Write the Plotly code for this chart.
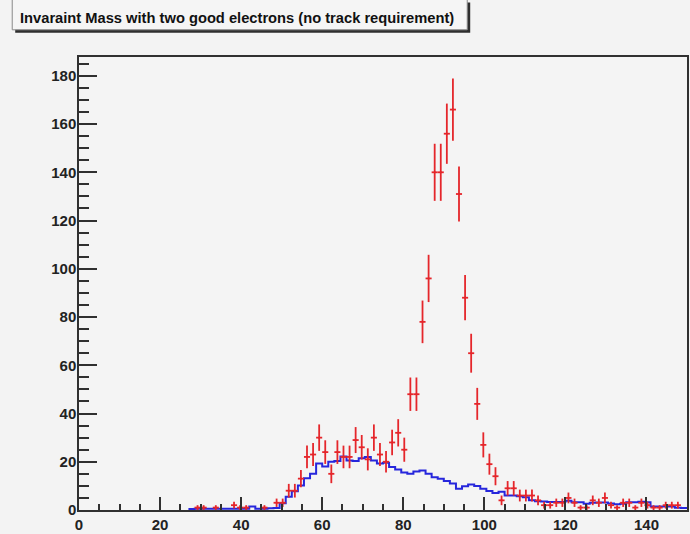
import numpy as np
import plotly.graph_objects as go

# Histogram binning: 100 bins of 1.5 GeV between 0 and 150
x_min, x_max, n_bins = 0.0, 150.0, 100

# Data: events per bin (dielectron invariant mass)
data_counts = [
    0, 0, 0, 0, 0, 0, 0, 0, 0, 0,
    0, 0, 0, 0, 0, 0, 0, 0, 0, 1,
    1, 0, 1, 0, 0, 2, 1, 1, 0, 0,
    1, 0, 3, 3, 8, 8, 13, 22, 23, 30,
    24, 15, 24, 22, 22, 29, 26, 21, 30, 23,
    20, 28, 32, 25, 48, 48, 78, 96, 140, 140,
    156, 166, 131, 88, 65, 44, 27, 19, 14, 4,
    9, 9, 6, 6, 6, 4, 2, 2, 3, 3,
    5, 3, 1, 1, 4, 3, 5, 2, 1, 3,
    3, 1, 3, 2, 1, 1, 2, 2, 2, 0,
]

# Simulated background, scaled, per bin
mc_counts = [
    0, 0, 0, 0, 0, 0, 0, 0, 0, 0,
    0, 0, 0, 0, 0, 0, 0, 0, 0.4, 0.5,
    0.5, 0.5, 0.5, 0.5, 0.5, 0.5, 0.5, 0.5, 1.4, 0.5,
    0.5, 0.7, 0.8, 2.8, 5.5, 7.8, 10.2, 13.2, 15.0, 19.3,
    18.0, 20.0, 20.3, 22.2, 20.5, 20.3, 21.5, 22.0, 20.5, 19.3,
    19.6, 17.8, 16.8, 15.5, 15.0, 16.0, 16.4, 15.0, 13.6, 13.0,
    12.0, 11.0, 8.8, 9.8, 10.6, 10.0, 8.8, 7.9, 7.0, 7.6,
    6.0, 6.0, 5.7, 5.3, 4.0, 3.6, 3.5, 3.3, 3.3, 3.3,
    3.8, 3.2, 3.2, 2.6, 3.0, 3.1, 3.1, 2.7, 2.4, 2.6,
    3.2, 3.2, 3.4, 3.2, 1.5, 1.4, 1.5, 1.5, 0.9, 0.8,
]

title_text = "Invaraint Mass with two good electrons (no track requirement)"
x_ticks = [0, 20, 40, 60, 80, 100, 120, 140]
y_ticks = [0, 20, 40, 60, 80, 100, 120, 140, 160, 180]
y_top = 187.8

RED = "#e5262b"
BLUE = "#2626dc"
AXIS = "#303030"
FONT = "Liberation Sans"

edges = np.linspace(x_min, x_max, n_bins + 1)
centers = 0.5 * (edges[:-1] + edges[1:])
half_width = 0.5 * (edges[1] - edges[0])

data = np.array(data_counts, dtype=float)
filled = data > 0
mc = np.array(mc_counts, dtype=float)
first = int(np.argmax(mc > 0))

fig = go.Figure()

# MC outline drawn as a step histogram
fig.add_trace(go.Scatter(
    x=edges[first:],
    y=np.append(mc[first:], mc[-1]),
    mode="lines",
    line=dict(shape="hv", color=BLUE, width=2),
    hoverinfo="skip",
))

# Data points with Poisson errors and bin-width horizontal bars
fig.add_trace(go.Scatter(
    x=centers[filled],
    y=data[filled],
    mode="markers",
    marker=dict(size=2, color=RED),
    error_x=dict(type="constant", value=half_width, width=0, thickness=1.8, color=RED),
    error_y=dict(type="data", array=np.sqrt(data[filled]), width=0, thickness=1.8, color=RED),
))

# Page geometry used to place the title pave
L, R, T, B, W, H = 79, 1, 57, 19, 690, 534
pw, ph = W - L - R, H - T - B


def px(xp):
    return (xp - L) / pw


def py(yp):
    return (H - B - yp) / ph


shapes = [
    # title pave shadow
    dict(type="rect", xref="paper", yref="paper",
         x0=px(15), x1=px(471.5), y0=py(32.5), y1=py(2),
         fillcolor="#2e2e2e", line=dict(width=0), layer="above"),
    # title pave
    dict(type="rect", xref="paper", yref="paper",
         x0=px(12), x1=px(468.5), y0=py(29.5), y1=py(-3),
         fillcolor="#f5f5f5", line=dict(color="#8a8a8a", width=1), layer="above"),
]

fig.update_layout(
    width=W, height=H,
    margin=dict(l=L, r=R, t=T, b=B),
    paper_bgcolor="#f3f3f3",
    plot_bgcolor="#f4f4f4",
    showlegend=False,
    shapes=shapes,
    annotations=[dict(
        text=title_text, xref="paper", yref="paper",
        x=px(238), y=py(18), xanchor="center", yanchor="middle",
        showarrow=False,
        font=dict(family=FONT, size=14.7, color="#111111", weight="bold"),
    )],
)

tickfont = dict(family=FONT, size=15, color="#222222", weight="bold")

fig.update_xaxes(
    range=[x_min, x_max], tickmode="array", tickvals=x_ticks,
    ticktext=[str(v) for v in x_ticks],
    ticks="inside", ticklen=13, tickwidth=1.5, tickcolor=AXIS,
    minor=dict(tickmode="linear", tick0=0, dtick=5, ticks="inside",
               ticklen=6, tickwidth=1.5, tickcolor=AXIS, showgrid=False),
    showgrid=False, zeroline=False,
    showline=True, linecolor=AXIS, linewidth=1.5, mirror=True,
    tickfont=tickfont,
)
fig.update_yaxes(
    range=[0, y_top], tickmode="array", tickvals=y_ticks,
    ticktext=[str(v) for v in y_ticks],
    ticks="inside", ticklen=18, tickwidth=1.5, tickcolor=AXIS,
    minor=dict(tickmode="linear", tick0=0, dtick=5, ticks="inside",
               ticklen=10, tickwidth=1.5, tickcolor=AXIS, showgrid=False),
    showgrid=False, zeroline=False,
    showline=True, linecolor=AXIS, linewidth=1.5, mirror=True,
    tickfont=tickfont, ticklabelstandoff=-2,
)

fig.write_html("out.html")
